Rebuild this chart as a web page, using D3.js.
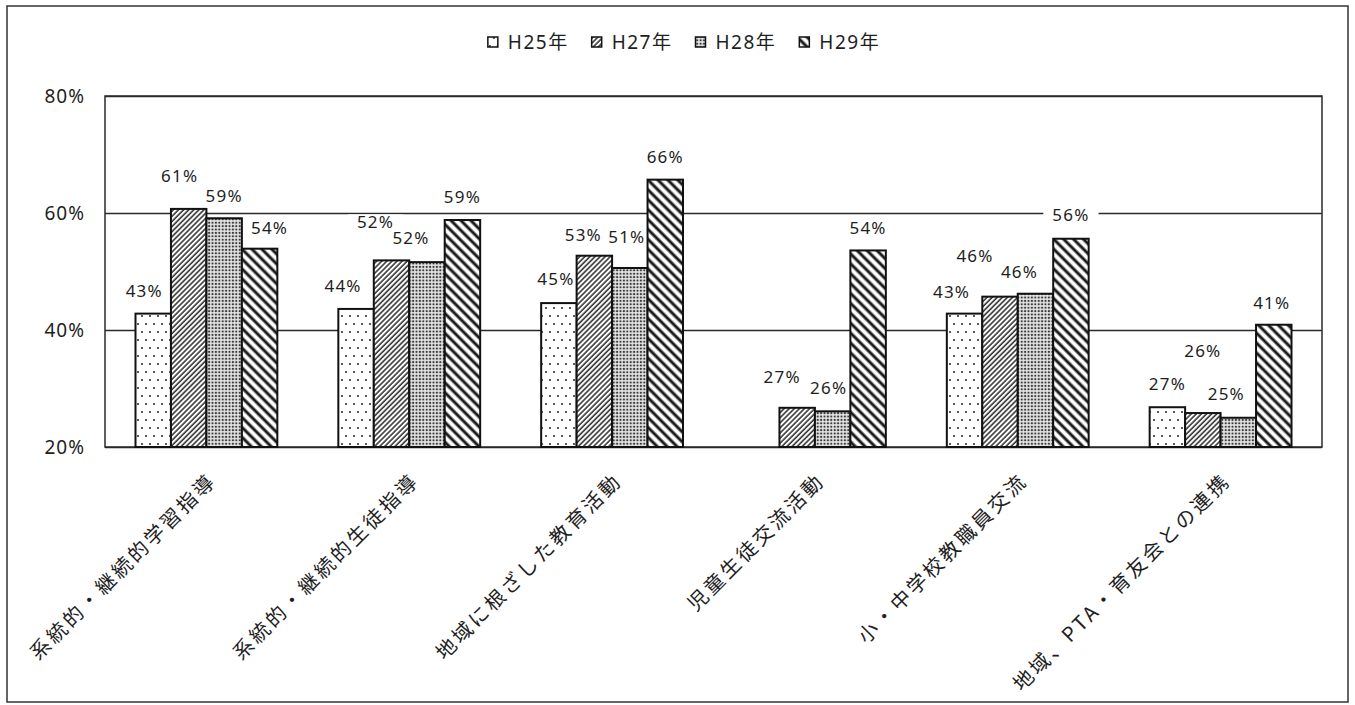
<!DOCTYPE html>
<html>
<head>
<meta charset="utf-8">
<script src="https://cdn.jsdelivr.net/npm/d3@7"></script>
<style>
  html, body { margin: 0; padding: 0; background: #fff; }
  svg { display: block; }
</style>
</head>
<body>
<svg id="chart" width="1355" height="705"></svg>
<script>
// ---------------- data ----------------
const categories = [
  "系統的・継続的学習指導",
  "系統的・継続的生徒指導",
  "地域に根ざした教育活動",
  "児童生徒交流活動",
  "小・中学校教職員交流",
  "地域、PTA・育友会との連携"
];
const seriesNames = ["H25年", "H27年", "H28年", "H29年"];
const h25 = [42.8, 43.6, 44.6, null, 42.8, 26.8];
const h27 = [60.7, 51.9, 52.7, 26.7, 45.7, 25.8];
const h28 = [59.1, 51.6, 50.6, 26.1, 46.2, 25.0];
const h29 = [53.9, 58.8, 65.7, 53.6, 55.6, 40.9];
const yTicks = [20, 40, 60, 80];

// ---------------- layout ----------------
// manual nudges of the data labels (dx, dy from bar centre / bar top), as in the source chart
const labelNudge = [
  [[-9,-23],[-13,-23],[-3,-24],null,[-13,-22],[0,-23]],
  [[-9,-33],[-16,-39],[-11,-21],[-15,-31],[-25,-41],[0,-62]],
  [[0,-22],[-16,-24],[-3,-31],[-4,-23],[-16,-22],[-12,-24]],
  [[10,-21],[0,-23],[0,-23],[0,-23],[0,-24],[-2,-22]]
];
const seriesValues = [h25, h27, h28, h29];
const patternIds = ["p25", "p27", "p28", "p29"];

const plot = { left: 105, right: 1322, top: 96, bottom: 447 };
const ink = "#1e1e1e";
const latinFont = "'Noto Sans','Noto Sans CJK JP',sans-serif";
const cjkFont = "'Noto Sans CJK JP','Noto Sans',sans-serif";

const svg = d3.select("#chart");

// ---------------- patterns ----------------
const defs = svg.append("defs");
// H25 : sparse dots
const p25 = defs.append("pattern").attr("id", "p25").attr("patternUnits", "userSpaceOnUse")
  .attr("width", 8).attr("height", 16);
p25.append("rect").attr("width", 8).attr("height", 16).attr("fill", "#fff");
p25.append("circle").attr("cx", 2).attr("cy", 4).attr("r", 1.1).attr("fill", "#333");
p25.append("circle").attr("cx", 6).attr("cy", 12).attr("r", 1.1).attr("fill", "#333");
// H27 : thin forward diagonal
const p27 = defs.append("pattern").attr("id", "p27").attr("patternUnits", "userSpaceOnUse")
  .attr("width", 3.6).attr("height", 10).attr("patternTransform", "rotate(45)");
p27.append("rect").attr("width", 3.6).attr("height", 10).attr("fill", "#fff");
p27.append("line").attr("x1", 1).attr("x2", 1).attr("y1", 0).attr("y2", 10)
  .attr("stroke", "#1a1a1a").attr("stroke-width", 1.4);
// H28 : fine dot screen
const p28 = defs.append("pattern").attr("id", "p28").attr("patternUnits", "userSpaceOnUse")
  .attr("width", 3.4).attr("height", 3.4);
p28.append("rect").attr("width", 3.4).attr("height", 3.4).attr("fill", "#e6e6e6");
p28.append("circle").attr("cx", 1.7).attr("cy", 1.7).attr("r", 1.15).attr("fill", "#3a3a3a");
// H29 : thick backward diagonal
const p29 = defs.append("pattern").attr("id", "p29").attr("patternUnits", "userSpaceOnUse")
  .attr("width", 7).attr("height", 10).attr("patternTransform", "rotate(-45)");
p29.append("rect").attr("width", 7).attr("height", 10).attr("fill", "#fff");
p29.append("line").attr("x1", 2).attr("x2", 2).attr("y1", 0).attr("y2", 10)
  .attr("stroke", "#1a1a1a").attr("stroke-width", 3);

// ---------------- frame ----------------
svg.append("rect").attr("x", 7).attr("y", 6).attr("width", 1341).attr("height", 696)
  .attr("fill", "#fff").attr("stroke", "#333").attr("stroke-width", 1.5);

// ---------------- scales ----------------
const x0 = d3.scaleBand().domain(categories).range([plot.left, plot.right]).paddingInner(0).paddingOuter(0);
const x1 = d3.scaleBand().domain(seriesNames).range([0, x0.bandwidth()]).paddingInner(0).paddingOuter(0.86);
const y = d3.scaleLinear().domain([20, 80]).range([plot.bottom, plot.top]);

// ---------------- gridlines ----------------
const grid = svg.append("g").attr("transform", `translate(${plot.left},0)`)
  .call(d3.axisLeft(y).tickValues(yTicks).tickSize(-(plot.right - plot.left)).tickFormat(""));
grid.select(".domain").remove();
grid.selectAll("line").attr("stroke", "#2a2a2a").attr("stroke-width", 1.5);

// plot border
svg.append("rect").attr("x", plot.left).attr("y", plot.top)
  .attr("width", plot.right - plot.left).attr("height", plot.bottom - plot.top)
  .attr("fill", "none").attr("stroke", "#2a2a2a").attr("stroke-width", 1.5);

// y axis labels
const yAxis = svg.append("g").attr("transform", `translate(${plot.left},0)`)
  .call(d3.axisLeft(y).tickValues(yTicks).tickSize(0).tickPadding(20).tickFormat(d => d + "%"));
yAxis.select(".domain").remove();
yAxis.selectAll("text").attr("font-family", latinFont).attr("font-size", 19)
  .attr("letter-spacing", "1px").attr("fill", ink);

// ---------------- flatten data ----------------
const cells = [];
seriesValues.forEach((vals, si) => {
  vals.forEach((v, ci) => {
    if (v == null) return;
    cells.push({ si, ci, v, cat: categories[ci], ser: seriesNames[si], nudge: labelNudge[si][ci] });
  });
});

const bgLayer = svg.append("g");
const barLayer = svg.append("g");
const labelLayer = svg.append("g");

// bars
barLayer.selectAll("rect").data(cells).join("rect")
  .attr("x", d => x0(d.cat) + x1(d.ser))
  .attr("y", d => y(d.v))
  .attr("width", x1.bandwidth())
  .attr("height", d => y(20) - y(d.v))
  .attr("fill", d => `url(#${patternIds[d.si]})`)
  .attr("stroke", "#111").attr("stroke-width", 2);

// data labels
const labels = labelLayer.selectAll("text").data(cells).join("text")
  .attr("x", d => x0(d.cat) + x1(d.ser) + x1.bandwidth() / 2 + d.nudge[0])
  .attr("y", d => y(d.v) + d.nudge[1])
  .attr("dy", "0.36em")
  .attr("text-anchor", "middle")
  .attr("font-family", latinFont).attr("font-size", 17).attr("letter-spacing", "1.2px")
  .attr("fill", ink)
  .text(d => Math.round(d.v) + "%");

// white boxes behind labels (drawn under bars, over gridlines)
labels.each(function (d) {
  const b = this.getBBox();
  const cy = y(d.v) + d.nudge[1];
  bgLayer.append("rect").attr("x", b.x - 9).attr("y", cy - 7)
    .attr("width", b.width + 18).attr("height", 14).attr("fill", "#fff");
});

// ---------------- x axis labels ----------------
const xAxis = svg.append("g").attr("transform", `translate(0,${plot.bottom})`)
  .call(d3.axisBottom(x0).tickSize(0));
xAxis.select(".domain").remove();
xAxis.selectAll("text")
  .attr("font-family", cjkFont).attr("font-size", 20).attr("letter-spacing", "3px")
  .attr("fill", ink)
  .attr("text-anchor", "end")
  .attr("x", 0).attr("y", 0).attr("dy", "0.36em")
  .attr("transform", "translate(6,30) rotate(-45)");

// ---------------- legend ----------------
const legend = svg.append("g");
const items = legend.selectAll("g").data(seriesNames).join("g");
items.append("rect").attr("width", 10).attr("height", 10).attr("y", -5)
  .attr("fill", (d, i) => `url(#${patternIds[i]})`)
  .attr("stroke", "#111").attr("stroke-width", 1.5);
items.append("text").attr("x", 20).attr("dy", "0.36em")
  .attr("font-family", latinFont).attr("font-size", 19).attr("letter-spacing", "1.5px")
  .attr("fill", ink).text(d => d);
const widths = [];
items.each(function () {
  const w = d3.select(this).select("text").node().getComputedTextLength() + 20;
  widths.push(w);
});
const gap = 23;
const total = d3.sum(widths) + gap * (widths.length - 1);
const startX = 684 - total / 2;
items.attr("transform", (d, i) => {
  const x = startX + d3.sum(widths.slice(0, i)) + gap * i;
  return `translate(${x},42)`;
});
</script>
</body>
</html>
